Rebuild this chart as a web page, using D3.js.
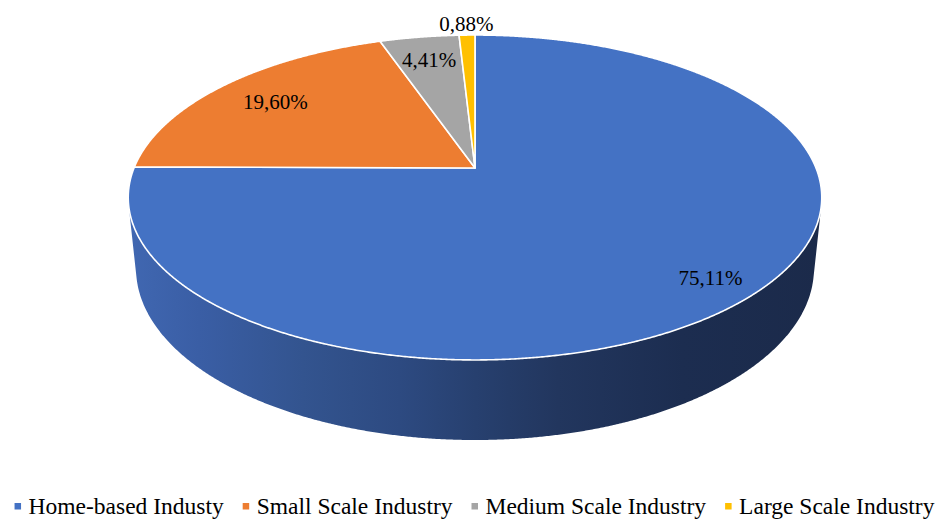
<!DOCTYPE html>
<html>
<head>
<meta charset="utf-8">
<script src="https://cdn.jsdelivr.net/npm/d3@7/dist/d3.min.js"></script>
<style>
  html, body { margin: 0; padding: 0; background: #fff; }
  svg { display: block; }
</style>
</head>
<body>
<svg id="chart" width="949" height="520"></svg>
<script>
// Share of industries by scale (percent)
const categories = ["Home-based Industy", "Small Scale Industry", "Medium Scale Industry", "Large Scale Industry"];
const values = [75.11, 19.60, 4.41, 0.88];
const colors = ["#4472C4", "#ED7D31", "#A5A5A5", "#FFC000"];

const W = 949, H = 520;
const FONT = "'Liberation Serif', 'Times New Roman', Times, serif";
const svg = d3.select("#chart");

// Perspective camera for a tilted 3D pie of unit radius
const cx = 475, cy = 168;        // projected centre of the top face
const F = 1667.5;                // focal scale
const Dist = 4.89;               // camera distance
const sinA = 0.4607, cosA = Math.sqrt(1 - sinA * sinA);
const depth = 0.2366;            // pie thickness

// u: right, v: toward viewer, z: up (0 = top face, -depth = bottom face)
function project(u, v, z) {
  const den = Dist - v * cosA - z * sinA;
  return [cx + F * u / den, cy + F * (v * sinA - z * cosA) / den];
}
// angle measured clockwise from 12 o'clock
function rim(angle, r, z) {
  return project(r * Math.sin(angle), -r * Math.cos(angle), z);
}

const pie = d3.pie().sort(null).value(d => d).startAngle(0).endAngle(2 * Math.PI);
const arcs = pie(values);

function arcPoints(a0, a1, r, z) {
  const n = Math.max(2, Math.ceil((a1 - a0) / (Math.PI / 720)));
  return d3.range(n + 1).map(i => rim(a0 + (a1 - a0) * i / n, r, z));
}

// Side wall: visible where the outward normal faces the camera (v > 1/(D cosA))
const vMin = 1 / (Dist * cosA);
const phiVis = Math.acos(vMin);  // half-angle around the front (angle = PI)
const defs = svg.append("defs");
const grad = defs.append("linearGradient")
  .attr("id", "wallShade")
  .attr("gradientUnits", "userSpaceOnUse")
  .attr("x1", 130).attr("x2", 821).attr("y1", 0).attr("y2", 0);
[[0, "#4067b1"], [0.10, "#3a5ea5"], [0.25, "#33548f"], [0.39, "#2d4a81"],
 [0.5, "#27406f"], [0.62, "#22365e"], [0.8, "#1c2d50"], [1, "#1b2a4a"]]
  .forEach(([o, c]) => grad.append("stop").attr("offset", o).attr("stop-color", c));

const line = d3.line();
const wallSegments = [];
arcs.forEach((a, i) => {
  const lo = Math.max(a.startAngle, Math.PI - phiVis);
  const hi = Math.min(a.endAngle, Math.PI + phiVis);
  if (hi > lo) wallSegments.push({ i, lo, hi });
});
svg.append("g").selectAll("path")
  .data(wallSegments)
  .join("path")
  .attr("d", s => {
    const top = arcPoints(s.lo, s.hi, 1, 0);
    const bot = arcPoints(s.lo, s.hi, 1, -depth).reverse();
    return line(top.concat(bot)) + "Z";
  })
  .attr("fill", s => s.i === 0 ? "url(#wallShade)" : d3.color(colors[s.i]).darker(1.2));

// Top face slices
svg.append("g").selectAll("path")
  .data(arcs)
  .join("path")
  .attr("d", a => line([project(0, 0, 0)].concat(arcPoints(a.startAngle, a.endAngle, 1, 0))) + "Z")
  .attr("fill", (a, i) => colors[i])
  .attr("stroke", "#fff")
  .attr("stroke-width", 1.6)
  .attr("stroke-linejoin", "round");

// Data labels
const fmt = v => d3.format(".2f")(v).replace(".", ",") + "%";
const labelRadius = [0.87, 0.78, 0.8, 1.1];
svg.append("g").selectAll("text")
  .data(arcs)
  .join("text")
  .attr("transform", (a, i) => {
    const p = rim((a.startAngle + a.endAngle) / 2, labelRadius[i], 0);
    return `translate(${p[0]},${p[1]})`;
  })
  .attr("text-anchor", "middle")
  .attr("dy", "0.35em")
  .attr("font-family", FONT)
  .attr("font-size", 21)
  .attr("fill", "#000")
  .text(a => fmt(a.data));

// Legend along the bottom, centred
const legend = svg.append("g").attr("transform", "translate(0,514)");
const items = legend.selectAll("g")
  .data(categories)
  .join("g");
items.append("rect")
  .attr("y", -11).attr("width", 6.5).attr("height", 6.5)
  .attr("fill", (d, i) => colors[i]);
items.append("text")
  .attr("x", 14)
  .attr("font-family", FONT)
  .attr("font-size", 23.5)
  .attr("fill", "#000")
  .text(d => d);
const widths = [];
items.each(function() {
  widths.push(14 + this.querySelector("text").getComputedTextLength());
});
const gap = 19;
const total = d3.sum(widths) + gap * (widths.length - 1);
let xPos = (W - total) / 2;
items.attr("transform", (d, i) => {
  const t = `translate(${xPos},0)`;
  xPos += widths[i] + gap;
  return t;
});
</script>
</body>
</html>
